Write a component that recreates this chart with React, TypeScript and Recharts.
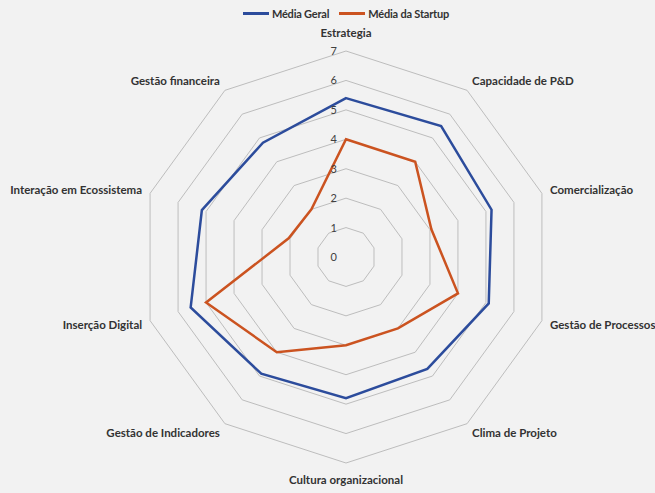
import { RadarChart, Radar, PolarGrid, PolarAngleAxis, PolarRadiusAxis, Legend } from 'recharts'

const categories = [
  'Estrategia',
  'Capacidade de P&D',
  'Comercialização',
  'Gestão de Processos',
  'Clima de Projeto',
  'Cultura organizacional',
  'Gestão de Indicadores',
  'Inserção Digital',
  'Interação em Ecossistema',
  'Gestão financeira',
]
const mediaGeral = [5.4, 5.5, 5.2, 5.1, 4.7, 4.8, 4.9, 5.55, 5.15, 4.8]
const mediaStartup = [4.0, 4.0, 3.05, 4.0, 3.0, 3.0, 4.0, 5.0, 2.05, 2.0]
const radiusTicks = [0, 1, 2, 3, 4, 5, 6, 7]

const data = categories.map((name, i) => ({ name, geral: mediaGeral[i], startup: mediaStartup[i] }))

const W = 655
const H = 493
const CX = 346
const CY = 257
const R = 206
const FONT = 'Lato, "Open Sans", sans-serif'
const BLUE = '#2c4c9c'
const ORANGE = '#cb5320'

function AngleTick(props: any) {
  const { payload, index } = props
  // vertex of the outer ring for this category
  const a = (90 - index * 36) * Math.PI / 180
  const vx = CX + R * Math.cos(a)
  const vy = CY - R * Math.sin(a)
  const c = Math.cos(a)
  const s = Math.sin(a)
  let x = vx
  let y = vy
  let anchor: 'start' | 'middle' | 'end' = 'middle'
  if (Math.abs(c) < 0.01) {
    y = s > 0 ? vy - 14 : vy + 21
  } else {
    anchor = c > 0 ? 'start' : 'end'
    const dir = c > 0 ? 1 : -1
    if (Math.abs(s) > 0.7) {
      x = vx + dir * 5
      y = s > 0 ? vy - 5 : vy + 13
    } else {
      x = vx + dir * 8
      y = s > 0 ? vy + 1 : vy + 8
    }
  }
  return (
    <text x={x} y={y} textAnchor={anchor} fontSize={11.5} fontWeight={700} fontFamily={FONT} fill="#333">
      {payload.value}
    </text>
  )
}

function RadiusTick(props: any) {
  const { x, y, payload } = props
  return (
    <text x={x - 9} y={y + 4} textAnchor="end" fontSize={11} fontFamily={FONT} fill="#404040">
      {payload.value}
    </text>
  )
}

function LegendContent() {
  const items = [
    { label: 'Média Geral', color: BLUE },
    { label: 'Média da Startup', color: ORANGE },
  ]
  return (
    <div style={{ display: 'flex', justifyContent: 'center', gap: 10, fontFamily: FONT, fontSize: 11, color: '#333' }}>
      {items.map((it) => (
        <div key={it.label} style={{ display: 'flex', alignItems: 'center' }}>
          <div style={{ width: 26, height: 3, background: it.color, marginRight: 3 }} />
          <span style={{ fontWeight: 700, letterSpacing: -0.2 }}>{it.label}</span>
        </div>
      ))}
    </div>
  )
}

export default function App() {
  return (
    <div style={{ width: W, height: H, background: '#f2f2f2' }}>
      <style>{'body{margin:0}'}</style>
      <RadarChart width={W} height={H} data={data} cx={CX} cy={CY} outerRadius={R} startAngle={90} endAngle={-270}>
        <PolarGrid gridType="polygon" radialLines={false} stroke="#bdbdbd" strokeWidth={1} />
        <PolarAngleAxis dataKey="name" tick={AngleTick} tickLine={false} axisLine={false} />
        <PolarRadiusAxis angle={90} domain={[0, 7]} ticks={radiusTicks as any} tickCount={8} axisLine={false} tick={RadiusTick} />
        <Radar name="Média Geral" dataKey="geral" stroke={BLUE} strokeWidth={2.5} fill="none" fillOpacity={0} dot={false} isAnimationActive={false} />
        <Radar name="Média da Startup" dataKey="startup" stroke={ORANGE} strokeWidth={2.5} fill="none" fillOpacity={0} dot={false} isAnimationActive={false} />
        <Legend verticalAlign="top" align="center" content={LegendContent} wrapperStyle={{ top: 7, left: 0, width: 692 }} />
      </RadarChart>
    </div>
  )
}
